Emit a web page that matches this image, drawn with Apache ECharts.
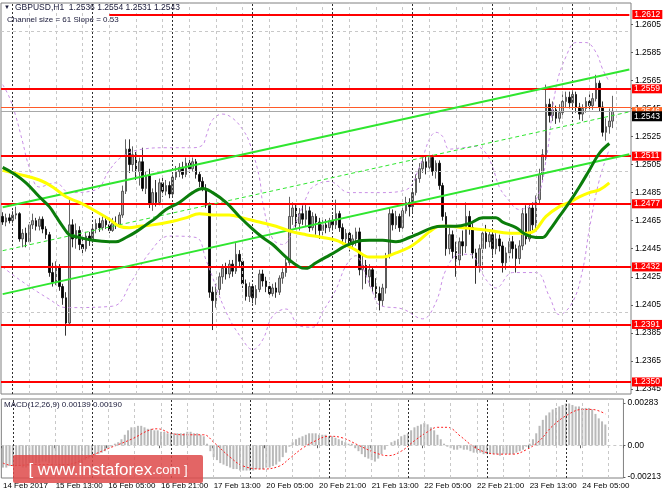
<!DOCTYPE html>
<html><head><meta charset="utf-8">
<script src="https://cdn.jsdelivr.net/npm/echarts@6/dist/echarts.min.js"></script>
<style>html,body{margin:0;padding:0;background:#fff}#c{width:664px;height:498px}</style>
</head><body><div id="c"></div>
<script>
const symbol = 'GBPUSD', timeframe = 'H1';
// [open, close, low, high]
const candles = [
[1.2468,1.2464,1.2462,1.2471],[1.2464,1.2467,1.2461,1.2470],[1.2467,1.2465,1.2463,1.2470],[1.2465,1.2469,1.2463,1.2472],
[1.2469,1.2470,1.2466,1.2475],[1.2470,1.2452,1.2450,1.2471],[1.2452,1.2456,1.2446,1.2459],[1.2456,1.2450,1.2446,1.2460],
[1.2450,1.2462,1.2448,1.2464],[1.2462,1.2465,1.2459,1.2470],[1.2465,1.2461,1.2458,1.2467],[1.2461,1.2466,1.2458,1.2468],
[1.2466,1.2459,1.2456,1.2468],[1.2459,1.2455,1.2452,1.2461],[1.2455,1.2428,1.2425,1.2457],[1.2428,1.2421,1.2418,1.2435],
[1.2421,1.2432,1.2419,1.2436],[1.2432,1.2418,1.2415,1.2434],[1.2418,1.2410,1.2405,1.2420],[1.2410,1.2392,1.2383,1.2414],
[1.2392,1.2462,1.2390,1.2480],[1.2462,1.2452,1.2446,1.2466],[1.2452,1.2458,1.2445,1.2463],[1.2458,1.2448,1.2444,1.2461],
[1.2448,1.2445,1.2441,1.2452],[1.2445,1.2454,1.2443,1.2457],[1.2454,1.2451,1.2447,1.2457],[1.2451,1.2459,1.2449,1.2462],
[1.2459,1.2463,1.2456,1.2466],[1.2463,1.2460,1.2457,1.2467],[1.2460,1.2465,1.2458,1.2468],[1.2465,1.2462,1.2459,1.2468],
[1.2462,1.2458,1.2456,1.2466],[1.2458,1.2463,1.2457,1.2467],[1.2463,1.2462,1.2459,1.2468],[1.2462,1.2469,1.2460,1.2471],
[1.2469,1.2486,1.2467,1.2490],[1.2486,1.2516,1.2484,1.2523],[1.2516,1.2505,1.2499,1.2523],[1.2505,1.2512,1.2500,1.2518],
[1.2512,1.2500,1.2494,1.2514],[1.2500,1.2507,1.2490,1.2510],[1.2507,1.2488,1.2486,1.2517],[1.2488,1.2497,1.2484,1.2500],
[1.2497,1.2477,1.2474,1.2502],[1.2477,1.2485,1.2472,1.2488],[1.2485,1.2478,1.2475,1.2494],[1.2478,1.2492,1.2476,1.2495],
[1.2492,1.2486,1.2482,1.2496],[1.2486,1.2490,1.2483,1.2494],[1.2490,1.2484,1.2481,1.2493],[1.2484,1.2496,1.2482,1.2498],
[1.2496,1.2500,1.2494,1.2504],[1.2500,1.2503,1.2496,1.2506],[1.2503,1.2498,1.2495,1.2507],[1.2498,1.2506,1.2496,1.2510],
[1.2506,1.2502,1.2499,1.2509],[1.2502,1.2507,1.2500,1.2510],[1.2507,1.2498,1.2495,1.2509],[1.2498,1.2493,1.2489,1.2500],
[1.2493,1.2488,1.2486,1.2496],[1.2488,1.2476,1.2474,1.2491],[1.2476,1.2414,1.2410,1.2478],[1.2414,1.2408,1.2387,1.2418],
[1.2408,1.2416,1.2403,1.2420],[1.2416,1.2425,1.2412,1.2428],[1.2425,1.2431,1.2420,1.2434],[1.2431,1.2427,1.2423,1.2435],
[1.2427,1.2434,1.2424,1.2437],[1.2434,1.2429,1.2425,1.2437],[1.2429,1.2441,1.2427,1.2449],[1.2441,1.2436,1.2432,1.2444],
[1.2436,1.2420,1.2417,1.2438],[1.2420,1.2411,1.2408,1.2423],[1.2411,1.2418,1.2407,1.2421],[1.2418,1.2410,1.2406,1.2420],
[1.2410,1.2416,1.2405,1.2419],[1.2416,1.2427,1.2414,1.2430],[1.2427,1.2422,1.2418,1.2430],[1.2422,1.2418,1.2414,1.2425],
[1.2418,1.2413,1.2410,1.2421],[1.2413,1.2417,1.2411,1.2420],[1.2417,1.2414,1.2410,1.2421],[1.2414,1.2424,1.2412,1.2426],
[1.2424,1.2428,1.2420,1.2431],[1.2428,1.2435,1.2425,1.2438],[1.2435,1.2468,1.2433,1.2482],[1.2468,1.2474,1.2462,1.2478],
[1.2474,1.2463,1.2460,1.2477],[1.2463,1.2470,1.2458,1.2474],[1.2470,1.2466,1.2462,1.2476],[1.2466,1.2472,1.2461,1.2477],
[1.2472,1.2460,1.2457,1.2475],[1.2460,1.2468,1.2458,1.2471],[1.2468,1.2464,1.2455,1.2470],[1.2464,1.2458,1.2452,1.2467],
[1.2458,1.2462,1.2454,1.2466],[1.2462,1.2460,1.2456,1.2466],[1.2460,1.2465,1.2457,1.2467],[1.2465,1.2462,1.2458,1.2469],
[1.2462,1.2470,1.2459,1.2480],[1.2470,1.2460,1.2457,1.2472],[1.2460,1.2452,1.2448,1.2463],[1.2452,1.2456,1.2446,1.2459],
[1.2456,1.2448,1.2443,1.2458],[1.2448,1.2452,1.2445,1.2455],[1.2452,1.2457,1.2447,1.2460],[1.2457,1.2430,1.2426,1.2460],
[1.2430,1.2433,1.2416,1.2440],[1.2433,1.2425,1.2420,1.2437],[1.2425,1.2430,1.2418,1.2434],[1.2430,1.2418,1.2414,1.2432],
[1.2418,1.2413,1.2410,1.2424],[1.2413,1.2408,1.2401,1.2418],[1.2408,1.2417,1.2404,1.2420],[1.2417,1.2440,1.2413,1.2442],
[1.2440,1.2470,1.2438,1.2474],[1.2470,1.2462,1.2458,1.2473],[1.2462,1.2468,1.2459,1.2472],[1.2468,1.2460,1.2457,1.2470],
[1.2460,1.2472,1.2458,1.2476],[1.2472,1.2478,1.2470,1.2482],[1.2478,1.2475,1.2468,1.2481],[1.2475,1.2485,1.2471,1.2488],
[1.2485,1.2495,1.2483,1.2498],[1.2495,1.2502,1.2492,1.2506],[1.2502,1.2507,1.2499,1.2510],[1.2507,1.2503,1.2498,1.2511],
[1.2503,1.2510,1.2500,1.2512],[1.2510,1.2500,1.2497,1.2512],[1.2500,1.2506,1.2495,1.2508],[1.2506,1.2490,1.2487,1.2508],
[1.2490,1.2468,1.2465,1.2492],[1.2468,1.2445,1.2440,1.2471],[1.2445,1.2455,1.2441,1.2460],[1.2455,1.2443,1.2438,1.2458],
[1.2443,1.2437,1.2425,1.2450],[1.2437,1.2450,1.2433,1.2453],[1.2450,1.2447,1.2440,1.2458],[1.2447,1.2468,1.2442,1.2478],
[1.2468,1.2460,1.2455,1.2472],[1.2460,1.2442,1.2438,1.2463],[1.2442,1.2432,1.2420,1.2445],[1.2432,1.2445,1.2428,1.2448],
[1.2445,1.2456,1.2430,1.2459],[1.2456,1.2450,1.2445,1.2462],[1.2450,1.2455,1.2446,1.2458],[1.2455,1.2445,1.2440,1.2458],
[1.2445,1.2452,1.2441,1.2456],[1.2452,1.2447,1.2443,1.2455],[1.2447,1.2435,1.2428,1.2450],[1.2435,1.2442,1.2430,1.2446],
[1.2442,1.2450,1.2438,1.2455],[1.2450,1.2445,1.2438,1.2454],[1.2445,1.2438,1.2428,1.2448],[1.2438,1.2447,1.2434,1.2451],
[1.2447,1.2470,1.2444,1.2474],[1.2470,1.2452,1.2448,1.2476],[1.2452,1.2474,1.2450,1.2477],[1.2474,1.2462,1.2458,1.2478],
[1.2462,1.2480,1.2459,1.2483],[1.2480,1.2498,1.2477,1.2502],[1.2498,1.2512,1.2494,1.2516],[1.2512,1.2548,1.2508,1.2562],
[1.2548,1.2540,1.2535,1.2552],[1.2540,1.2544,1.2536,1.2550],[1.2544,1.2538,1.2534,1.2547],[1.2538,1.2542,1.2535,1.2548],
[1.2542,1.2550,1.2538,1.2555],[1.2550,1.2553,1.2546,1.2557],[1.2553,1.2549,1.2545,1.2557],[1.2549,1.2555,1.2545,1.2558],
[1.2555,1.2546,1.2542,1.2557],[1.2546,1.2541,1.2537,1.2549],[1.2541,1.2545,1.2536,1.2548],[1.2545,1.2550,1.2542,1.2553],
[1.2550,1.2547,1.2543,1.2555],[1.2547,1.2552,1.2544,1.2556],[1.2552,1.2563,1.2550,1.2569],[1.2563,1.2546,1.2543,1.2565],
[1.2546,1.2528,1.2525,1.2550],[1.2528,1.2532,1.2522,1.2538],[1.2532,1.2536,1.2527,1.2545],[1.2536,1.2543,1.2531,1.2554]
];
const slotCount = 189;
const timeTickBars = [0,16,32,48,64,80,96,112,128,144,160,176];
const timeTickLabels = ['14 Feb 2017','15 Feb 13:00','16 Feb 05:00','16 Feb 21:00','17 Feb 13:00','20 Feb 05:00',
  '20 Feb 21:00','21 Feb 13:00','22 Feb 05:00','22 Feb 21:00','23 Feb 13:00','24 Feb 05:00'];
const daySeparatorBars = [3,27,51,75,99,123,147,171];
const priceTicks = [1.2345,1.2365,1.2385,1.2405,1.2425,1.2445,1.2465,1.2485,1.2505,1.2525,1.2545,1.2565,1.2585,1.2605];
const levels = [1.2612,1.2559,1.2511,1.2477,1.2432,1.2391,1.2350];
const topLevelStartBar = 32;
const askPrice = 1.2546, bidPrice = 1.2543;
const maYellow = [[0,1.2501],[5,1.2498],[11,1.2494],[15,1.2489],[19,1.2482],[23,1.2478],[27,1.2473],[32,1.2466],[35,1.2461],
 [38,1.2460],[41,1.2461],[45,1.2462],[50,1.2464],[55,1.2467],[59,1.2470],[63,1.2469],[68,1.2469],[72,1.2467],[77,1.2464],
 [82,1.2461],[87,1.2457],[91,1.2455],[96,1.2453],[100,1.2451],[102,1.2449],[106,1.2444],[110,1.2439],[114,1.2439],[118,1.2442],
 [122,1.2446],[125,1.2451],[128,1.2457],[131,1.2461],[134,1.2461],[138,1.2460],[142,1.2459],[146,1.2458],[152,1.2456],
 [156,1.2456],[159,1.2457],[163,1.2468],[167,1.2475],[170,1.2478],[173,1.2482],[176,1.2485],[179,1.2487],[182,1.2492]];
const maGreen = [[0,1.2503],[3,1.2499],[7,1.2492],[11,1.2482],[14,1.2475],[16,1.2468],[18,1.2461],[20,1.2455],[23,1.2453],
 [27,1.2451],[32,1.2450],[34,1.2450],[37,1.2453],[40,1.2457],[43,1.2462],[46,1.2467],[49,1.2473],[53,1.2478],[57,1.2485],
 [60,1.2488],[63,1.2485],[67,1.2478],[71,1.2468],[75,1.2459],[78,1.2453],[81,1.2448],[85,1.2439],[89,1.2432],[91,1.2431],
 [94,1.2435],[97,1.2439],[100,1.2443],[102,1.2446],[106,1.2450],[110,1.2451],[114,1.2451],[118,1.2450],[122,1.2453],
 [125,1.2456],[129,1.2460],[132,1.2461],[136,1.2461],[140,1.2463],[144,1.2467],[148,1.2467],[150,1.2464],[154,1.2460],
 [157,1.2455],[160,1.2453],[162,1.2453],[164,1.2458],[167,1.2468],[170,1.2478],[173,1.2489],[176,1.2501],[179,1.2513],[182,1.2520]];
const bbUpper = [[0,1.2562],[2,1.2553],[4,1.2539],[6,1.2521],[8,1.2503],[11,1.2489],[16,1.2492],[20,1.2485],[28,1.2487],
 [32,1.2501],[36,1.2511],[42,1.2516],[49,1.2517],[57,1.2517],[60,1.2519],[61,1.2525],[63,1.2537],[66,1.2541],[69,1.2538],
 [72,1.2530],[74,1.2521],[77,1.2496],[78,1.2478],[81,1.2452],[84,1.2448],[88,1.2464],[91,1.2481],[93,1.2489],[98,1.2493],
 [104,1.2485],[113,1.2485],[121,1.2487],[125,1.2503],[128,1.2523],[130,1.2528],[132,1.2525],[134,1.2516],[138,1.2517],
 [142,1.2518],[145,1.2513],[147,1.2503],[149,1.2489],[151,1.2482],[155,1.2473],[160,1.2480],[163,1.2508],[166,1.2560],
 [169,1.2582],[172,1.2592],[175,1.2592],[178,1.2585],[180,1.2573],[182,1.2564]];
const bbLower = [[0,1.2432],[5,1.2423],[14,1.2409],[19,1.2403],[33,1.2404],[39,1.2423],[44,1.2442],[50,1.2454],[58,1.2453],
 [61,1.2437],[67,1.2400],[72,1.2380],[75,1.2373],[78,1.2380],[81,1.2397],[85,1.2402],[89,1.2390],[93,1.2389],[96,1.2400],
 [100,1.2416],[103,1.2433],[106,1.2440],[108,1.2432],[111,1.2414],[113,1.2405],[120,1.2402],[126,1.2395],[130,1.2407],
 [133,1.2430],[137,1.2441],[140,1.2441],[145,1.2423],[148,1.2417],[153,1.2428],[160,1.2428],[164,1.2411],[167,1.2398],
 [171,1.2407],[174,1.2430],[176,1.2459],[179,1.2494],[182,1.2516]];
const channelUpper = [[0,1.24746],[188,1.25728]];
const channelLower = [[0,1.24126],[188,1.25124]];
const channelMid = [[0,1.24436],[188,1.25426]];
const channelInfo = {size: 61, slope: 0.53};
const macdHist = [
-0.0015,-0.0015,-0.0014,-0.0014,-0.0014,-0.0014,-0.0015,-0.0015,-0.0014,-0.0013,
-0.0012,-0.0012,-0.0011,-0.0011,-0.0012,-0.0014,-0.0015,-0.0016,-0.0017,-0.0019,
-0.0016,-0.0015,-0.0014,-0.0013,-0.0012,-0.0010,-0.0009,-0.0008,-0.0007,-0.0006,
-0.0005,-0.0004,-0.0002,-0.0001,0.0001,0.0002,0.0004,0.0007,0.0010,0.0012,
0.0012,0.0013,0.0013,0.0012,0.0011,0.0011,0.0010,0.0010,0.0009,0.0009,
0.0008,0.0008,0.0008,0.0008,0.0008,0.0008,0.0009,0.0009,0.0008,0.0008,
0.0007,0.0006,0.0001,-0.0004,-0.0008,-0.0010,-0.0012,-0.0013,-0.0014,-0.0015,
-0.0016,-0.0016,-0.0017,-0.0017,-0.0017,-0.0017,-0.0017,-0.0016,-0.0016,-0.0016,
-0.0015,-0.0015,-0.0014,-0.0013,-0.0011,-0.0008,-0.0005,-0.0001,0.0002,0.0004,
0.0005,0.0006,0.0007,0.0008,0.0008,0.0008,0.0007,0.0007,0.0007,0.0006,
0.0006,0.0005,0.0004,0.0003,0.0002,0.0001,0.0001,-0.0002,-0.0004,-0.0006,
-0.0008,-0.0009,-0.0010,-0.0011,-0.0009,-0.0006,-0.0003,0.0000,0.0002,0.0003,
0.0004,0.0006,0.0007,0.0008,0.0010,0.0012,0.0013,0.0014,0.0015,0.0014,
0.0012,0.0010,0.0007,0.0004,0.0001,-0.0001,-0.0002,-0.0003,-0.0003,-0.0002,
-0.0003,-0.0003,-0.0004,-0.0005,-0.0005,-0.0005,-0.0006,-0.0006,-0.0006,-0.0006,
-0.0006,-0.0007,-0.0006,-0.0006,-0.0006,-0.0006,-0.0005,-0.0004,-0.0003,-0.0001,
0.0001,0.0004,0.0008,0.0013,0.0017,0.0020,0.0022,0.0024,0.0025,0.0026,
0.0027,0.0028,0.0028,0.0027,0.0026,0.0026,0.0025,0.0025,0.0025,0.0024,
0.0021,0.0018,0.0016,0.00139];
const macdSignal = [[0,-0.0012],[3,-0.00137],[10,-0.0013],[19,-0.0013],[27,-0.00067],[32,-0.00022],[39,0.0004],[45,0.00105],
 [47,0.0011],[51,0.0008],[55,0.0007],[61,0.0007],[64,0.0002],[69,-0.0008],[73,-0.0014],[79,-0.0016],[84,-0.0014],[87,-0.0009],
 [91,-0.0002],[95,0.0003],[99,0.0006],[103,0.0005],[108,0.0000],[113,-0.0005],[117,-0.0007],[121,-0.0004],[125,0.0003],
 [129,0.0009],[132,0.0012],[135,0.0012],[139,0.0006],[143,-0.0001],[147,-0.0005],[151,-0.0006],[155,-0.0006],[159,-0.0003],
 [163,0.0003],[167,0.0013],[172,0.0021],[176,0.0024],[179,0.0024],[183,0.0021]];
const macdParams = {fast: 12, slow: 26, signal: 9, main: '0.00139', sig: '0.00190'};
const macdTicks = [0.00283, 0, -0.00213];

const FONT = '"Liberation Sans", Arial, sans-serif';
const cats = Array.from({length: slotCount}, (_, i) => 'b' + i);
const gridBars = [];
for (let b = 8; b < slotCount; b += 8) gridBars.push(b);
const tickSet = new Set(timeTickBars);
const last = candles[candles.length - 1];
const header = symbol + ',' + timeframe + '  ' + [last[0], last[3], last[2], last[1]].map(v => v.toFixed(4)).join(' ');

const gridLineStyle = {color: '#c8c8c8', type: [3, 3], width: 1};
const sepStyle = {color: '#303030', type: [2, 2], width: 1};
const vLines = [
  ...gridBars.map(b => ({xAxis: b, lineStyle: gridLineStyle})),
  ...daySeparatorBars.map(b => ({xAxis: b, lineStyle: sepStyle}))
];
const boxLabel = (bg, dist) => ({show: true, position: 'end', distance: dist, backgroundColor: bg, color: '#fff',
  fontSize: 8.5, fontFamily: FONT, lineHeight: 9, padding: [0, 2, 0, 2],
  formatter: p => Number(p.value).toFixed(4)});
const levelData = levels.map(v => v === levels[0]
  ? [{coord: [topLevelStartBar, v], value: v, label: boxLabel('#ff0000', 3)}, {coord: [slotCount - 1, v], value: v}]
  : {yAxis: v, value: v, label: boxLabel('#ff0000', 1)});
levelData.push({yAxis: askPrice, value: askPrice, lineStyle: {color: '#ff5a28', width: 1},
  label: Object.assign(boxLabel('#ff6a2a', 1), {verticalAlign: 'top'})});
levelData.push({yAxis: bidPrice, value: bidPrice, lineStyle: {color: '#a8a8a8', width: 1},
  label: Object.assign(boxLabel('#000000', 1), {verticalAlign: 'top', padding: [1, 2, 0, 2]})});

const lineSeries = (name, data, color, width, type, z, smooth) => ({
  type: 'line', name, data, xAxisIndex: 0, yAxisIndex: 0, showSymbol: false, symbol: 'none',
  smooth: smooth, lineStyle: {color, width, type}, z, silent: true, animation: false
});

const chart = echarts.init(document.getElementById('c'), null, {renderer: 'canvas'});
chart.setOption({
  animation: false,
  backgroundColor: '#ffffff',
  textStyle: {fontFamily: FONT},
  grid: [
    {left: 1, right: 33, top: 3, height: 391, show: true, borderColor: '#808080', borderWidth: 1},
    {left: 1, right: 33, top: 399, height: 79, show: true, borderColor: '#808080', borderWidth: 1}
  ],
  xAxis: [
    {type: 'category', gridIndex: 0, data: cats, boundaryGap: true, show: false},
    {type: 'category', gridIndex: 1, data: cats, boundaryGap: true,
      axisLine: {show: false},
      axisTick: {show: true, interval: i => tickSet.has(i), length: 3, lineStyle: {color: '#606060'}},
      axisLabel: {show: true, interval: i => tickSet.has(i), align: 'left', margin: 4, fontSize: 8, color: '#000',
        fontFamily: FONT, formatter: (v, i) => timeTickLabels[timeTickBars.indexOf(i)] || ''},
      splitLine: {show: false}}
  ],
  yAxis: [
    {type: 'value', gridIndex: 0, position: 'right', min: 1.23414, max: 1.26202,
      axisLine: {show: false}, splitLine: {show: false},
      axisTick: {show: true, customValues: priceTicks, length: 2, lineStyle: {color: '#606060'}},
      axisLabel: {show: true, customValues: priceTicks, margin: 4, fontSize: 8.5, color: '#000', fontFamily: FONT,
        formatter: v => v.toFixed(4)}},
    {type: 'value', gridIndex: 1, position: 'right', min: -0.0022, max: 0.0031,
      axisLine: {show: false}, splitLine: {show: false},
      axisTick: {show: true, customValues: macdTicks, length: 2, lineStyle: {color: '#606060'}},
      axisLabel: {show: true, customValues: macdTicks, margin: 4, fontSize: 8.5, color: '#000', fontFamily: FONT,
        formatter: v => v === 0 ? '0.00' : v.toFixed(5)}}
  ],
  series: [
    {type: 'line', name: 'gridMain', data: [], xAxisIndex: 0, yAxisIndex: 0, z: 1, silent: true,
      markLine: {silent: true, symbol: ['none', 'none'], label: {show: false}, emphasis: {disabled: true}, animation: false,
        data: [...priceTicks.map(v => ({yAxis: v, lineStyle: gridLineStyle})), ...vLines]}},
    {type: 'line', name: 'gridMacd', data: [], xAxisIndex: 1, yAxisIndex: 1, z: 1, silent: true,
      markLine: {silent: true, symbol: ['none', 'none'], label: {show: false}, emphasis: {disabled: true}, animation: false,
        data: [{yAxis: 0, lineStyle: gridLineStyle}, ...vLines]}},
    {type: 'candlestick', name: symbol, data: candles, xAxisIndex: 0, yAxisIndex: 0, barWidth: 2, z: 3, silent: true,
      itemStyle: {color: '#a9a9a9', color0: '#000000', borderColor: '#3c3c3c', borderColor0: '#000000', borderWidth: 0.8}},
    lineSeries('bbUpper', bbUpper, '#c98fe6', 1, [3, 3], 4, 0.4),
    lineSeries('bbLower', bbLower, '#c98fe6', 1, [3, 3], 4, 0.4),
    lineSeries('channelUpper', channelUpper, '#2fe62f', 2, 'solid', 5, false),
    lineSeries('channelLower', channelLower, '#2fe62f', 2, 'solid', 5, false),
    lineSeries('channelMid', channelMid, '#2fe62f', 1, [4, 3], 5, false),
    lineSeries('maYellow', maYellow, '#ffff00', 3, 'solid', 6, 0.4),
    lineSeries('maGreen', maGreen, '#0b7d0b', 3, 'solid', 7, 0.4),
    {type: 'line', name: 'levels', data: [], xAxisIndex: 0, yAxisIndex: 0, z: 8, silent: true,
      markLine: {silent: true, symbol: ['none', 'none'], precision: 4, emphasis: {disabled: true}, animation: false,
        lineStyle: {color: '#ff0000', width: 2, type: 'solid'}, data: levelData}},
    {type: 'bar', name: 'MACD', data: macdHist, xAxisIndex: 1, yAxisIndex: 1, barWidth: 2, z: 3, silent: true,
      itemStyle: {color: '#b9b9b9'}},
    {type: 'line', name: 'Signal', data: macdSignal, xAxisIndex: 1, yAxisIndex: 1, showSymbol: false, symbol: 'none',
      smooth: 0.4, lineStyle: {color: '#ff2020', width: 1, type: [2, 2]}, z: 4, silent: true}
  ],
  graphic: [
    {type: 'text', left: 4, top: 4, z: 50, style: {text: '\u25BC', font: '6px ' + FONT, fill: '#1a1a3a'}},
    {type: 'text', left: 15, top: 3, z: 50, style: {text: header, font: '8.5px ' + FONT, fill: '#1a1a3a'}},
    {type: 'text', left: 7, top: 16, z: 50, style: {text: 'Channel size = ' + channelInfo.size + ' Slope = ' + channelInfo.slope,
      font: '8px ' + FONT, fill: '#1a1a3a'}},
    {type: 'text', left: 4, top: 401, z: 50, style: {text: 'MACD(' + macdParams.fast + ',' + macdParams.slow + ',' + macdParams.signal + ') ' + macdParams.main + ' ' + macdParams.sig,
      font: '8px ' + FONT, fill: '#1a1a3a'}},
    {type: 'rect', z: 60, shape: {x: 13, y: 455, width: 190, height: 28, r: 2}, style: {fill: 'rgba(222,76,76,0.86)'}},
    {type: 'text', z: 61, x: 108, y: 470, style: {text: '{a|[ www.instaforex}{b|.com ]}', align: 'center', verticalAlign: 'middle',
      rich: {a: {fontSize: 17, fill: '#ffffff', fontFamily: FONT}, b: {fontSize: 13, fill: '#ffffff', fontFamily: FONT}}}}
  ]
});
</script></body></html>
